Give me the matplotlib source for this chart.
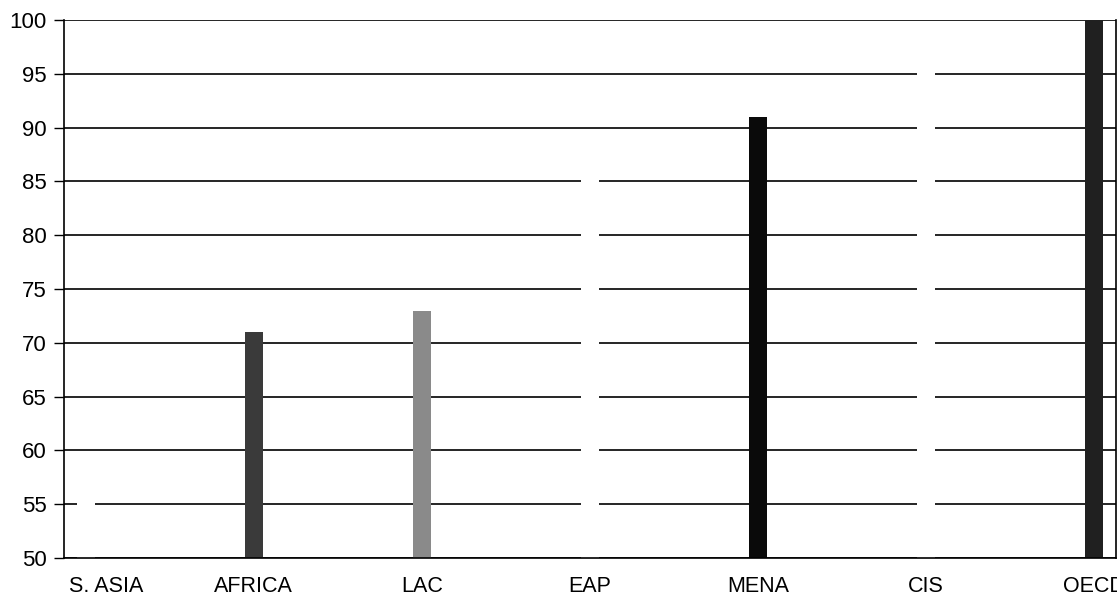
import numpy as np
import matplotlib
matplotlib.use("Agg")
import matplotlib.pyplot as plt
import matplotlib.transforms as mtransforms

regions = ["S. ASIA", "AFRICA", "LAC", "EAP", "MENA", "CIS", "OECD"]
values = [57, 71, 73, 88, 91, 97, 100]
colors = ["white", "#3a3a3a", "#8a8a8a", "white", "#0a0a0a", "white", "#202020"]

plt.rcParams["font.family"] = ["Liberation Sans", "DejaVu Sans"]

fig = plt.figure(figsize=(11.17, 5.98), dpi=100)
ax = fig.add_axes([0.0573, 0.0669, 0.9417, 0.8997])

x = np.arange(len(regions))
ax.set_axisbelow(True)
ax.yaxis.grid(True, color="black", linewidth=1.2)
ax.bar(x, values, width=0.11, color=colors, bottom=0, zorder=3)

ax.set_ylim(50, 100)
ax.set_xlim(-0.13, 6.13)
ax.set_yticks(range(50, 101, 5))
ax.set_xticks(x)
ax.set_xticklabels(regions)
ax.tick_params(axis="y", length=7, width=1, labelsize=16, pad=5.5)
ax.tick_params(axis="x", length=0, labelsize=15.5, pad=13)
for s in ["left", "bottom", "right"]:
    ax.spines[s].set_linewidth(1.2)
    ax.spines[s].set_zorder(4)
ax.spines["top"].set_visible(False)

# first label sits a little right of its bar in the original
lbl = ax.get_xticklabels()[0]
lbl.set_transform(lbl.get_transform() + mtransforms.ScaledTranslation(0.2, 0, fig.dpi_scale_trans))

fig.savefig("out.png", dpi=100)
